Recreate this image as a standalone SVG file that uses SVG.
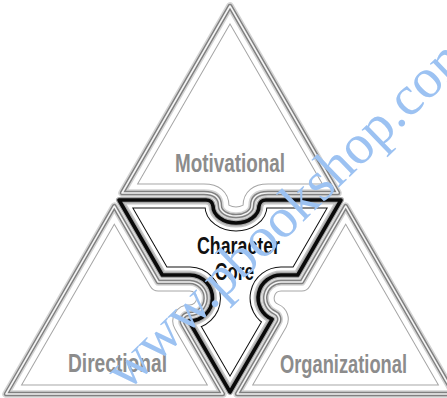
<svg xmlns="http://www.w3.org/2000/svg" xmlns:xlink="http://www.w3.org/1999/xlink" width="447" height="398" viewBox="0 0 447 398">
<style>
.fill{fill:#fff;stroke:none}
.halo{fill:none;stroke:#d4d4d4;stroke-width:7.5;stroke-linejoin:round}
.dark{fill:none;stroke:#808080;stroke-width:4.5;stroke-linejoin:round}
.light{fill:none;stroke:#f4f4f4;stroke-width:1.6;stroke-linejoin:round}
.ins-d{fill:none;stroke:#a6a6a6;stroke-width:19;stroke-linejoin:round}
.ins-l{fill:none;stroke:#fff;stroke-width:17;stroke-linejoin:round}
.core-ins-d{fill:none;stroke:#111;stroke-width:17;stroke-linejoin:round}
.core-ins-l{fill:none;stroke:#fff;stroke-width:15;stroke-linejoin:round}
.core-shade{fill:none;stroke:#c6c6c6;stroke-width:9;stroke-linejoin:round}
.core-halo{fill:none;stroke:#a8a8a8;stroke-width:6;stroke-linejoin:round}
.core-line{fill:none;stroke:#0a0a0a;stroke-width:3.6;stroke-linejoin:round}
.lbl{font-family:"Liberation Sans",Arial,sans-serif;font-weight:bold;font-size:25px;fill:#8c8c8c}
.core-lbl{font-family:"Liberation Sans",Arial,sans-serif;font-weight:bold;font-size:23px;fill:#111}
.wm{font-family:"Liberation Serif","Times New Roman",serif;font-size:56px;fill:#9cc2f2}
</style>
<defs>
<path id="p-top" d="M230,6 L122,193 L204,193 Q220,193 220,206 A16,10 0 0 0 252,206 Q252,193 268,193 L338,193 Z"/>
<path id="p-left" d="M114.3,206.2 L6,394 L222.9,394 L182.8,324.5 A7,7 0 0 1 189.2,314 A16,16 0 1 0 190,282 L158.2,282 Z"/>
<path id="p-right" d="M345.7,206.2 L454,394 L237.1,394 L278.3,322.7 A7,7 0 0 0 274.9,312.7 A16,16 0 0 1 281,282 L301.8,282 Z"/>
<path id="p-core" d="M119,200 L206,200 Q212,200 213,206 A23,17 0 0 0 259,206 Q260,200 266,200 L341,200 L297.7,275 L282,275 A23,23 0 0 0 272.2,319.2 L230,392 L188.9,321 A23,23 0 1 0 190,275 L162.3,275 Z"/>
<clipPath id="c-top"><use xlink:href="#p-top"/></clipPath>
<clipPath id="c-left"><use xlink:href="#p-left"/></clipPath>
<clipPath id="c-right"><use xlink:href="#p-right"/></clipPath>
<clipPath id="c-core"><use xlink:href="#p-core"/></clipPath>
</defs>
<rect width="447" height="398" fill="#fff"/>
<g id="motivational">
<use xlink:href="#p-top" class="fill"/>
<g clip-path="url(#c-top)"><use xlink:href="#p-top" class="ins-d"/><use xlink:href="#p-top" class="ins-l"/></g>
<use xlink:href="#p-top" class="halo"/><use xlink:href="#p-top" class="dark"/><use xlink:href="#p-top" class="light"/>
<text class="lbl" x="175" y="172" textLength="110" lengthAdjust="spacingAndGlyphs">Motivational</text>
</g>
<g id="directional">
<use xlink:href="#p-left" class="fill"/>
<g clip-path="url(#c-left)"><use xlink:href="#p-left" class="ins-d"/><use xlink:href="#p-left" class="ins-l"/></g>
<use xlink:href="#p-left" class="halo"/><use xlink:href="#p-left" class="dark"/><use xlink:href="#p-left" class="light"/>
<text class="lbl" x="68" y="372" textLength="99" lengthAdjust="spacingAndGlyphs">Directional</text>
</g>
<g id="organizational">
<use xlink:href="#p-right" class="fill"/>
<g clip-path="url(#c-right)"><use xlink:href="#p-right" class="ins-d"/><use xlink:href="#p-right" class="ins-l"/></g>
<use xlink:href="#p-right" class="halo"/><use xlink:href="#p-right" class="dark"/><use xlink:href="#p-right" class="light"/>
<text class="lbl" x="280" y="373" textLength="127" lengthAdjust="spacingAndGlyphs">Organizational</text>
</g>
<g id="character-core">
<use xlink:href="#p-core" class="fill"/>
<g clip-path="url(#c-core)"><use xlink:href="#p-core" class="core-ins-d"/><use xlink:href="#p-core" class="core-ins-l"/><use xlink:href="#p-core" class="core-shade"/></g>
<use xlink:href="#p-core" class="core-halo"/><use xlink:href="#p-core" class="core-line"/>
<text class="core-lbl" x="197" y="254" textLength="83" lengthAdjust="spacingAndGlyphs">Character</text>
<text class="core-lbl" x="215" y="280" textLength="39" lengthAdjust="spacingAndGlyphs">Core</text>
</g>
<g id="connectors"/>
<text class="wm" x="127" y="392" transform="rotate(-44 127 392)">www.pbookshop.com</text>
</svg>
